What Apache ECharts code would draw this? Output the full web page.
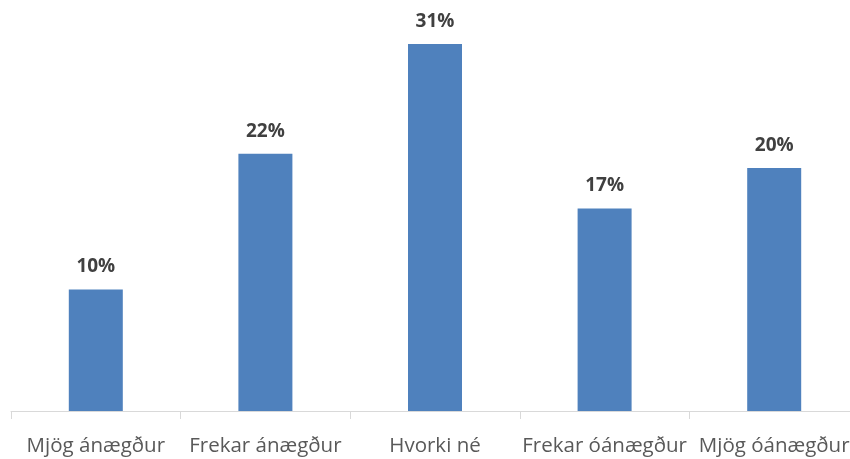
<!DOCTYPE html>
<html>
<head>
<meta charset="utf-8">
<script src="https://cdn.jsdelivr.net/npm/echarts@6/dist/echarts.min.js"></script>
<style>html,body{margin:0;padding:0;background:#fff;overflow:hidden;}#c{width:880px;height:459px;}</style>
</head>
<body>
<div id="c"></div>
<script>
var categories = ['Mjög ánægður', 'Frekar ánægður', 'Hvorki né', 'Frekar óánægður', 'Mjög óánægður'];
var values = [10.2, 21.6, 30.8, 17.0, 20.4];

var chart = echarts.init(document.getElementById('c'), null, {renderer: 'canvas'});
chart.setOption({
  animation: false,
  backgroundColor: '#ffffff',
  grid: {left: 11, top: 6, width: 848, height: 405, containLabel: false},
  xAxis: {
    type: 'category',
    data: categories,
    boundaryGap: true,
    axisLine: {lineStyle: {color: '#d9d9d9', width: 1}},
    axisTick: {show: true, length: 8, lineStyle: {color: '#d9d9d9'}},
    axisLabel: {color: '#595959', fontFamily: 'Open Sans', fontSize: 20.5, margin: 25, interval: 0}
  },
  yAxis: {
    type: 'value',
    min: 0,
    max: 34,
    show: false,
    splitLine: {show: false}
  },
  series: [{
    type: 'bar',
    data: values,
    barWidth: 54,
    itemStyle: {color: '#4f81bd'},
    label: {
      show: true,
      position: 'top',
      distance: 13,
      color: '#404040',
      fontFamily: 'Open Sans',
      fontWeight: 'bold',
      fontSize: 19,
      formatter: function (p) { return Math.round(p.value) + '%'; }
    }
  }]
});
</script>
</body>
</html>
